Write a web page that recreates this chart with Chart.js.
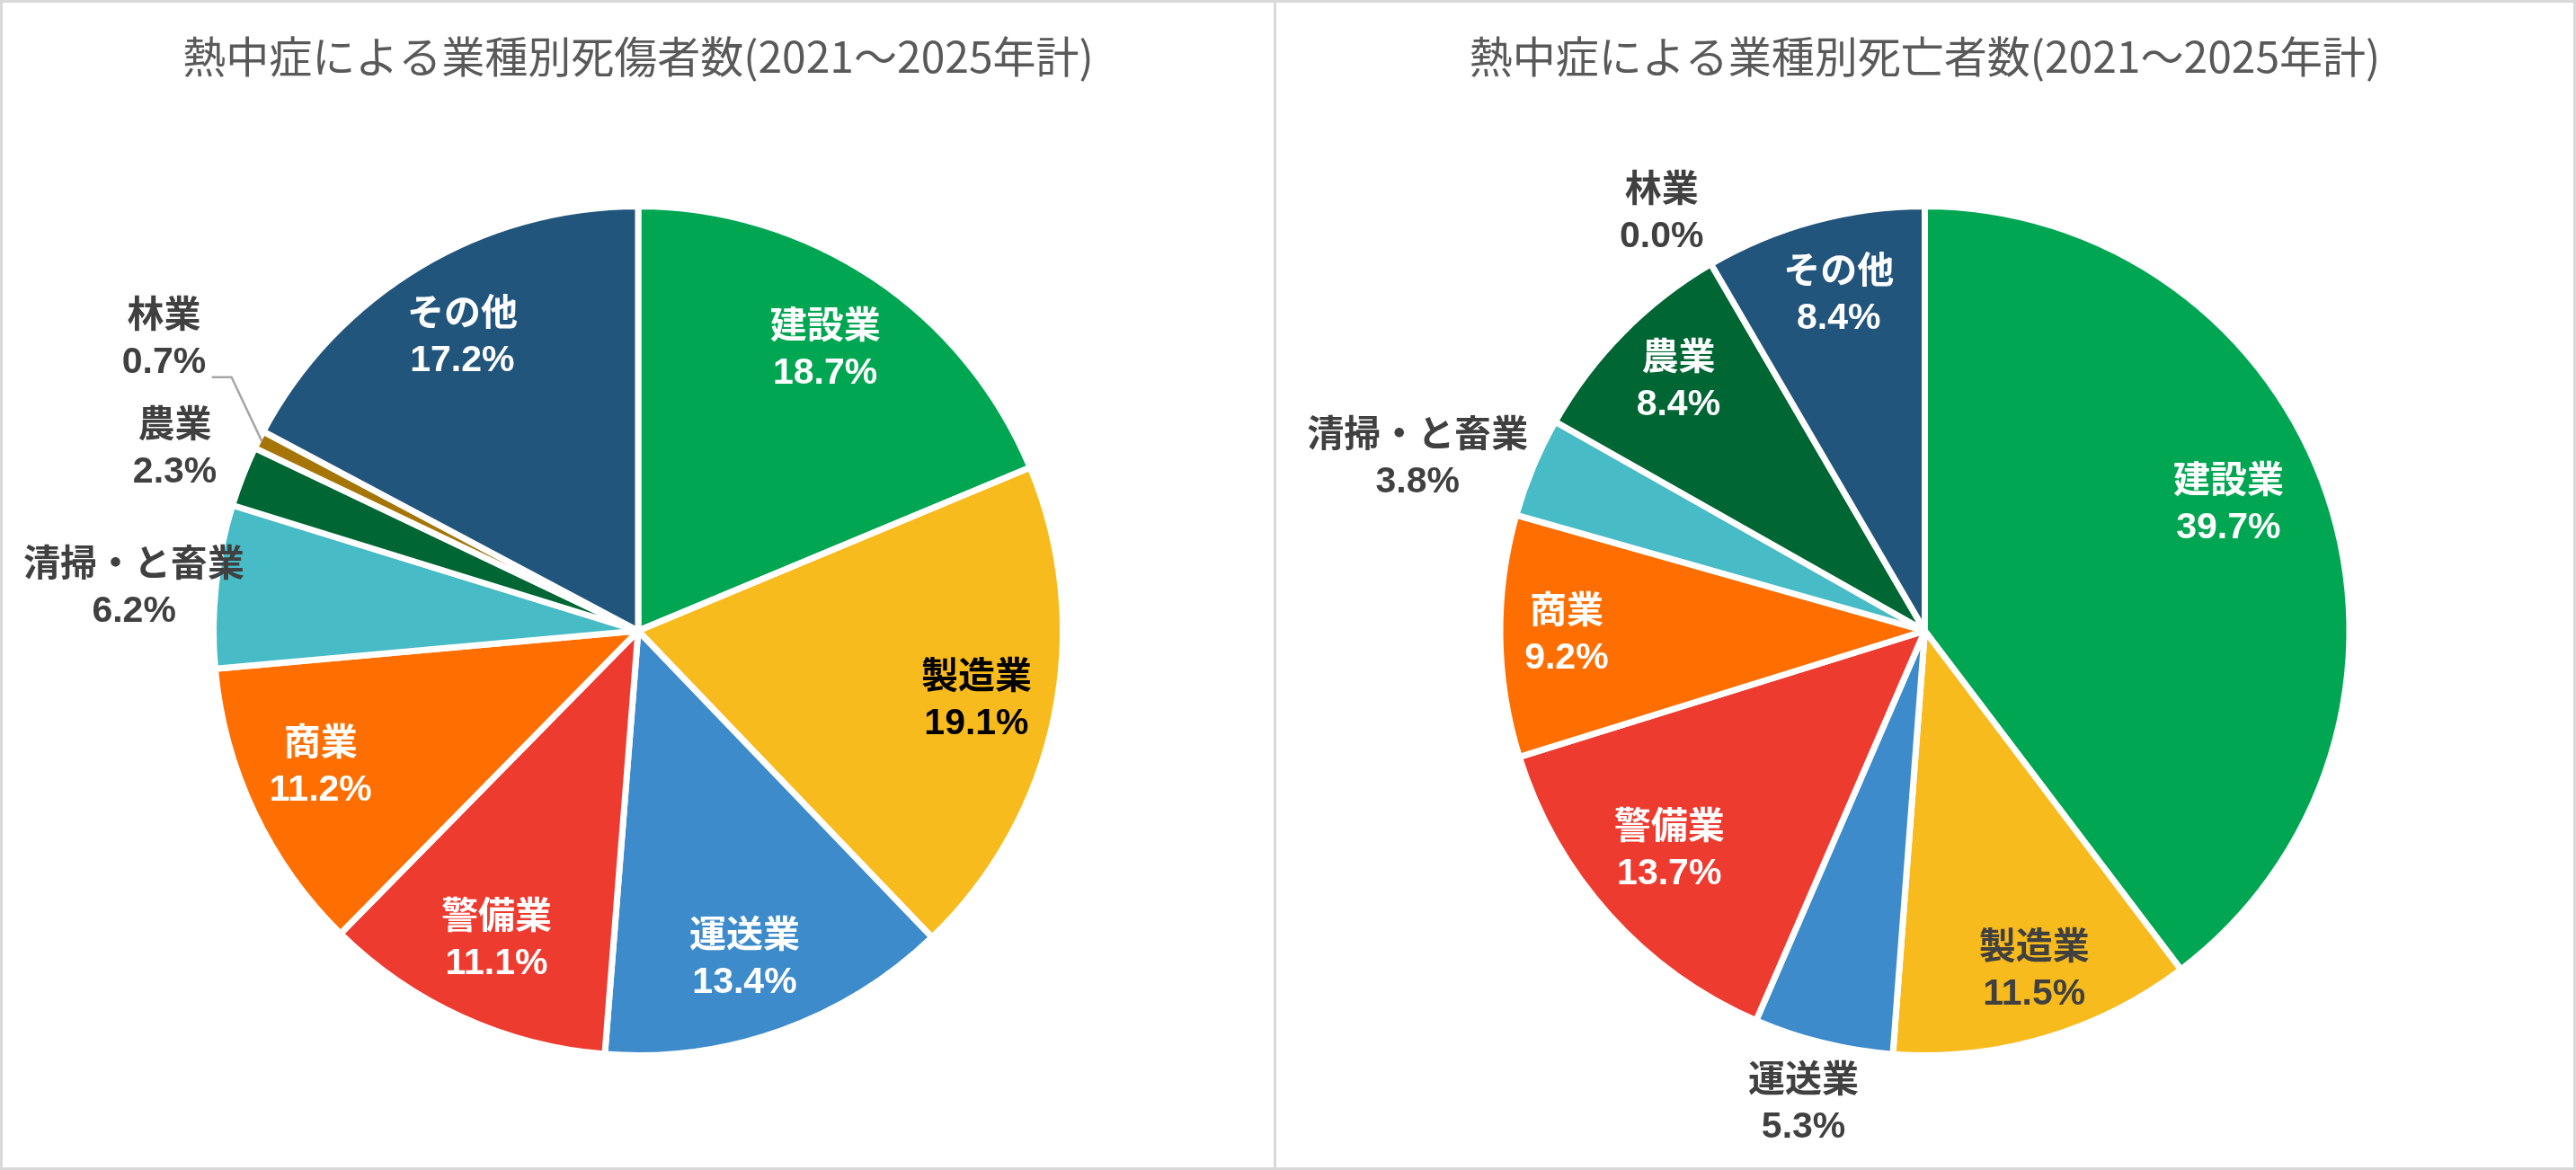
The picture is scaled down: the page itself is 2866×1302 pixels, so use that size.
<!DOCTYPE html>
<html>
<head>
<meta charset="utf-8">
<script src="https://cdn.jsdelivr.net/npm/chart.js@4/dist/chart.umd.min.js"></script>
<style>
html,body{margin:0;padding:0;background:#fff;}
#wrap{position:relative;width:2866px;height:1302px;box-sizing:border-box;border:3px solid #d9d9d9;background:#fff;overflow:hidden;}
#leftBox{position:absolute;left:0;top:0;width:1414px;height:1296px;}
#divider{position:absolute;left:1414px;top:0;width:3px;height:1296px;background:#d9d9d9;}
#rightBox{position:absolute;left:1417px;top:0;width:1443px;height:1296px;}
canvas{display:block;}
</style>
</head>
<body>
<div id="wrap">
  <div id="leftBox"><canvas id="leftChart" width="1414" height="1296"></canvas></div>
  <div id="divider"></div>
  <div id="rightBox"><canvas id="rightChart" width="1443" height="1296"></canvas></div>
</div>
<script>
// ---- data ----
const categories = ['建設業','製造業','運送業','警備業','商業','清掃・と畜業','農業','林業','その他'];
const casualtyShares = [18.7, 19.1, 13.4, 11.1, 11.2, 6.2, 2.3, 0.7, 17.2];
const deathShares    = [39.7, 11.5, 5.3, 13.7, 9.2, 3.8, 8.4, 0.0, 8.4];
const leftTitle  = '熱中症による業種別死傷者数(2021～2025年計)';
const rightTitle = '熱中症による業種別死亡者数(2021～2025年計)';

// ---- styles ----
const sliceColors = ['#00A651','#F8BB1D','#3D8BCA','#EE3B30','#FF6E00','#47BBC6','#006633','#A57508','#22557C'];

const leftLabelRadius = [0.80, 0.82, 0.82, 0.81, 0.82, 1.20, 1.18, 1.32, 0.81];
const leftLabelAngle  = [0, 0, 1.7, 0, 2, -1.3, 0, 4.8, 0];
const leftLabelColor  = ['#fff','#000','#fff','#fff','#fff','#404040','#404040','#404040','#fff'];

const rightLabelRadius = [0.78, 0.85, 1.16, 0.80, 0.85, 1.27, 0.83, 1.17, 0.82];
const rightLabelAngle  = [-4, -1.4, 0.5, 1.2, 0, -4, 0.6, -2, 0.7];
const rightLabelColor  = ['#fff','#404040','#404040','#fff','#fff','#404040','#fff','#404040','#fff'];

const BORDER = 7;
const labelFont = "bold 41px 'Liberation Sans', 'Noto Sans CJK JP', sans-serif";
const LINE_GAP = 25.5;

const sliceLabels = {
  id: 'sliceLabels',
  afterDatasetsDraw(chart, args, opts) {
    const ctx = chart.ctx;
    const meta = chart.getDatasetMeta(0);
    const values = chart.data.datasets[0].data;
    ctx.save();
    ctx.font = labelFont;
    ctx.textAlign = 'center';
    ctx.textBaseline = 'middle';
    meta.data.forEach((arc, i) => {
      const p = arc.getProps(['x','y','startAngle','endAngle','outerRadius'], true);
      const r = p.outerRadius - BORDER / 2;
      const mid = (p.startAngle + p.endAngle) / 2;
      const a = mid + opts.angle[i] * Math.PI / 180;
      const cx = p.x + Math.cos(a) * r * opts.radius[i];
      const cy = p.y + Math.sin(a) * r * opts.radius[i];
      if (opts.leader && opts.leader.index === i) {
        const L = opts.leader;
        const ea = mid + L.angle * Math.PI / 180;
        const ex = p.x + Math.cos(ea) * r * L.radius;
        const ey = p.y + Math.sin(ea) * r * L.radius;
        ctx.save();
        ctx.strokeStyle = '#A6A6A6';
        ctx.lineWidth = 2.5;
        ctx.beginPath();
        ctx.moveTo(p.x + Math.cos(mid) * r, p.y + Math.sin(mid) * r);
        ctx.lineTo(ex, ey);
        ctx.lineTo(ex - L.tail, ey);
        ctx.stroke();
        ctx.restore();
      }
      ctx.fillStyle = opts.color[i];
      ctx.fillText(chart.data.labels[i], cx, cy - LINE_GAP);
      ctx.fillText(values[i].toFixed(1) + '%', cx, cy + LINE_GAP);
    });
    ctx.restore();
  }
};

function makeChart(id, title, values, labelOpts) {
  return new Chart(document.getElementById(id), {
    type: 'pie',
    data: {
      labels: categories,
      datasets: [{
        data: values,
        backgroundColor: sliceColors,
        borderColor: '#ffffff',
        borderWidth: BORDER
      }]
    },
    options: {
      responsive: false,
      animation: false,
      devicePixelRatio: 1,
      layout: { padding: { top: 0, bottom: 121, left: 0, right: 0 } },
      plugins: {
        legend: { display: false },
        tooltip: { enabled: false },
        title: {
          display: true,
          text: title,
          color: '#595959',
          font: { family: "'Noto Sans CJK JP', sans-serif", size: 48, weight: 'normal', lineHeight: 1.2 },
          padding: { top: 31, bottom: 134.4 }
        },
        sliceLabels: labelOpts
      }
    },
    plugins: [sliceLabels]
  });
}

makeChart('leftChart', leftTitle, casualtyShares, {
  radius: leftLabelRadius, angle: leftLabelAngle, color: leftLabelColor,
  leader: { index: 7, radius: 1.137, angle: 5.2, tail: 22 }
});
makeChart('rightChart', rightTitle, deathShares, {
  radius: rightLabelRadius, angle: rightLabelAngle, color: rightLabelColor
});
</script>
</body>
</html>
